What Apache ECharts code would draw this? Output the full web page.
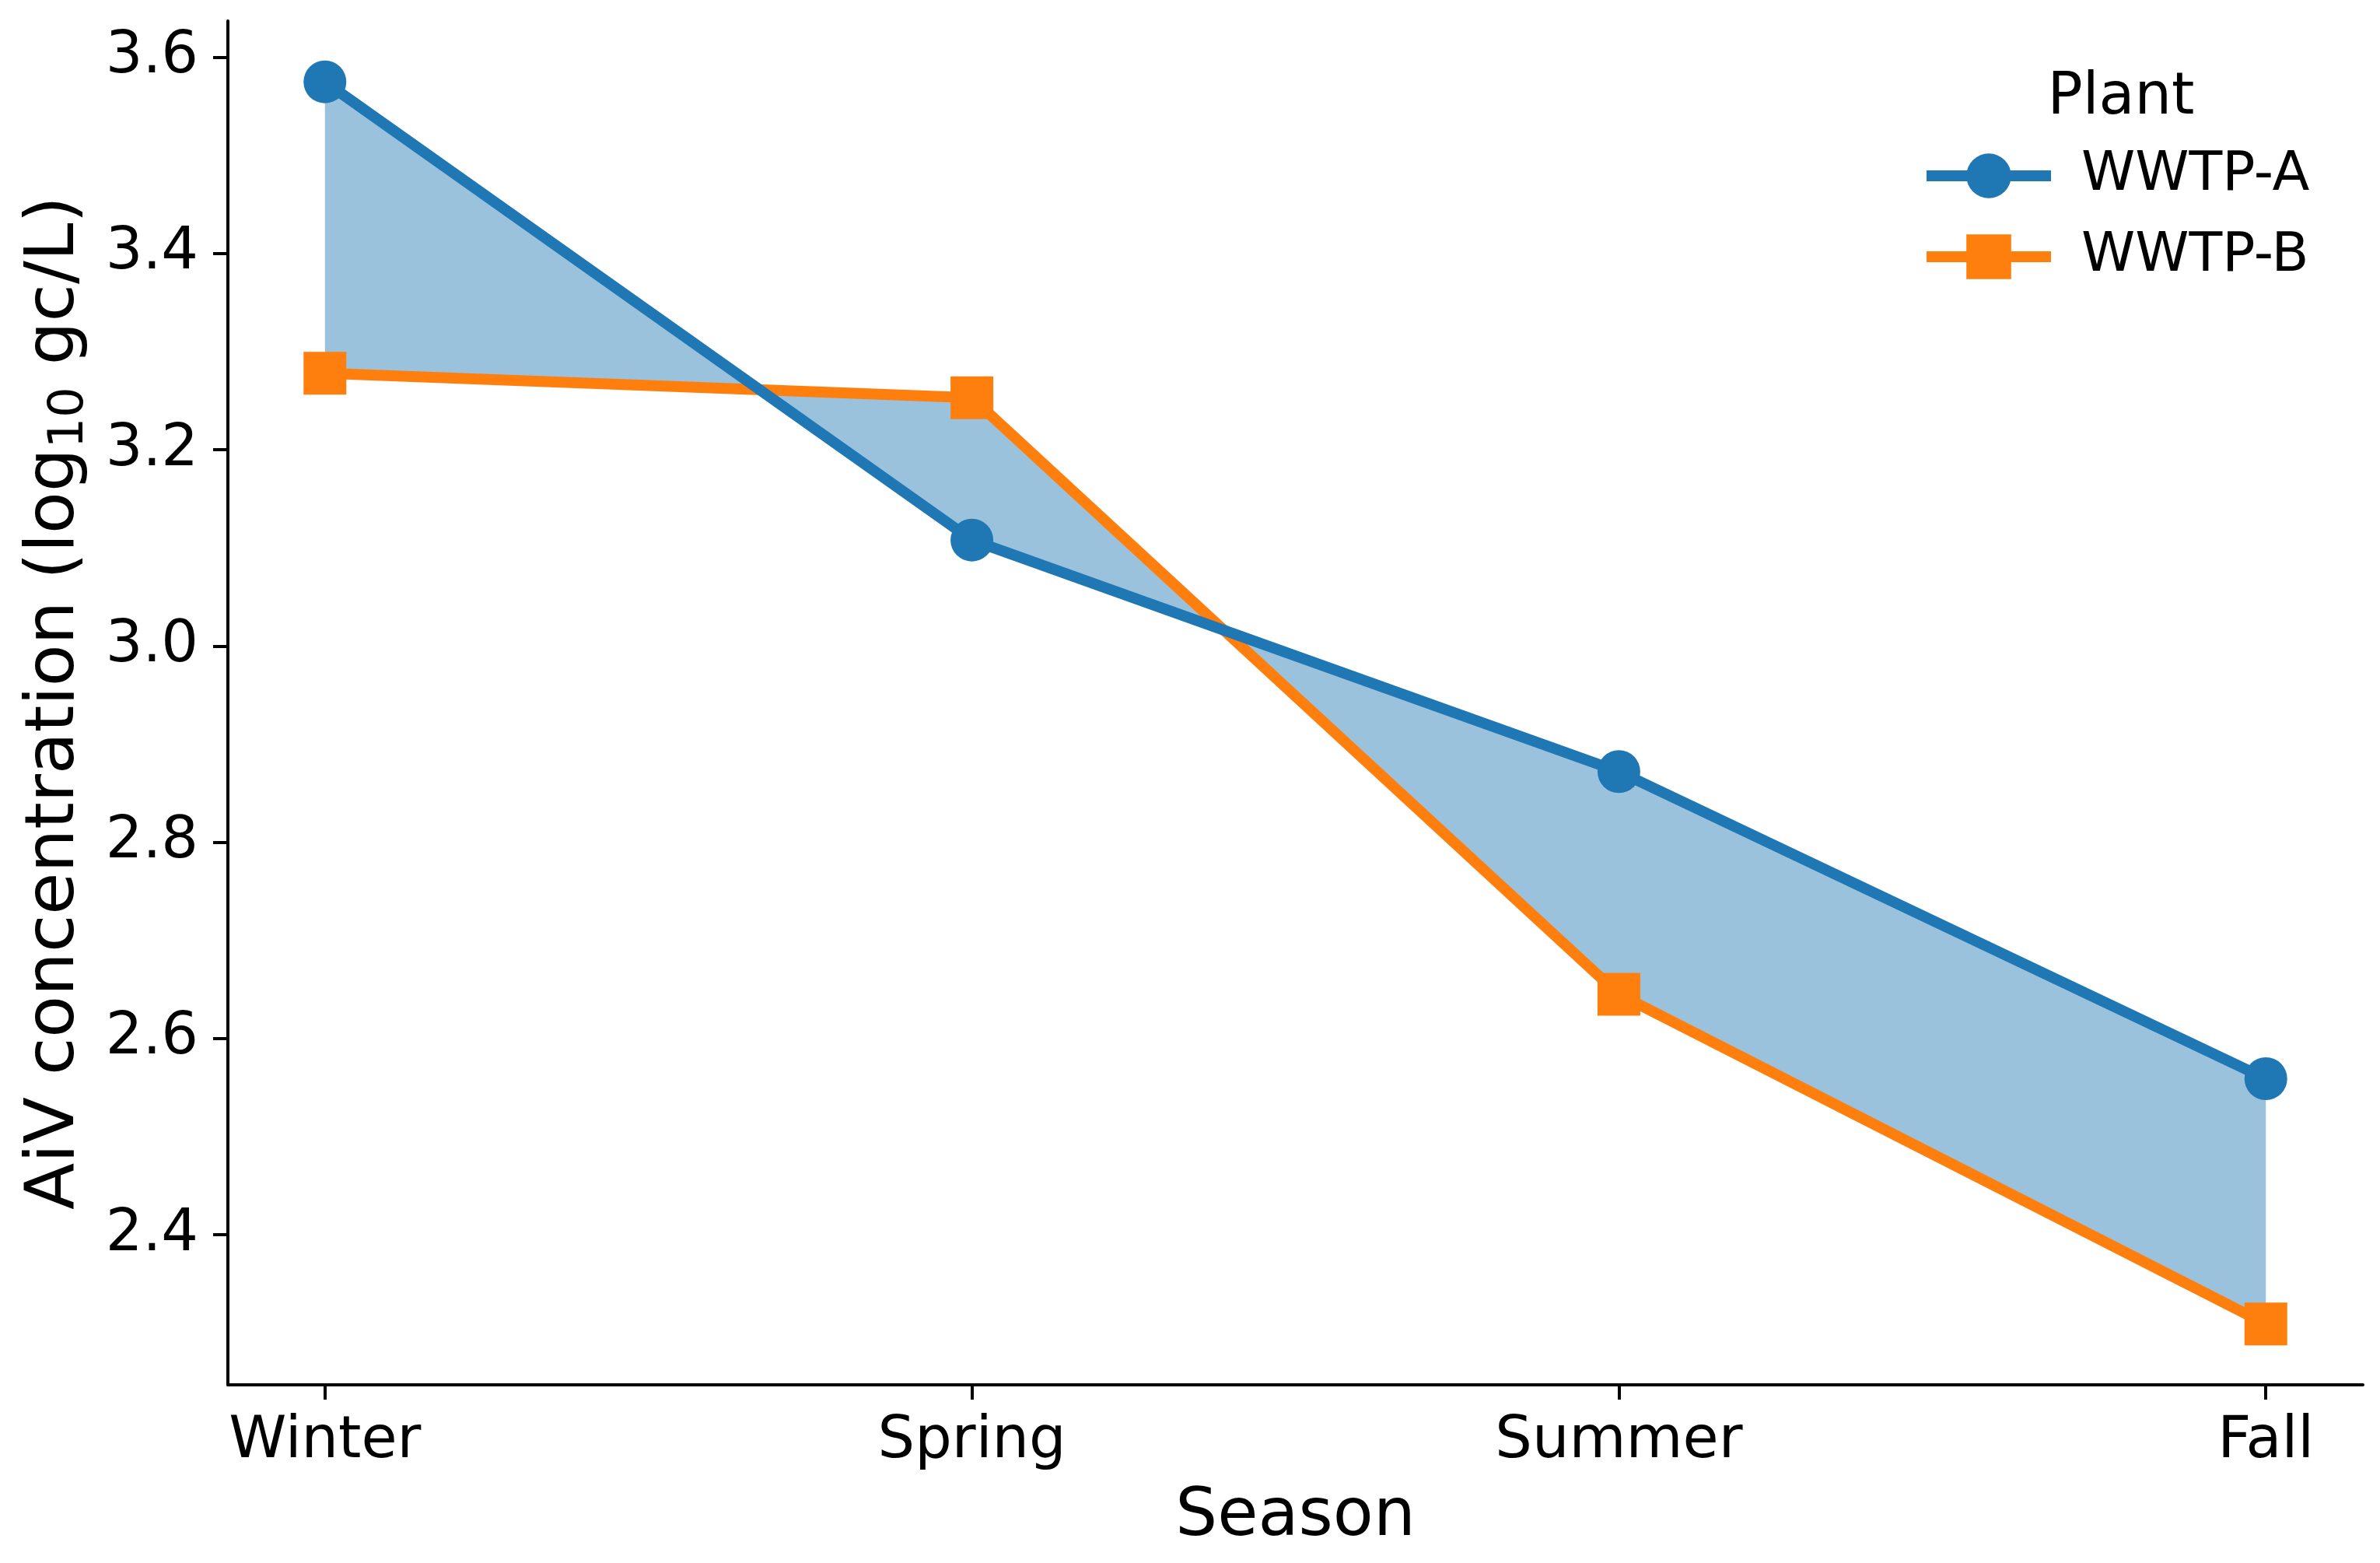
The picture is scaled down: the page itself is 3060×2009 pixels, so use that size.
<!DOCTYPE html>
<html>
<head>
<meta charset="utf-8">
<script src="https://cdn.jsdelivr.net/npm/echarts@6/dist/echarts.min.js"></script>
<style>
  html, body { margin: 0; padding: 0; background: #fff; }
  #chart { width: 3060px; height: 2009px; }
</style>
</head>
<body>
<div id="chart"></div>
<script>
// data
var seasons = ['Winter', 'Spring', 'Summer', 'Fall'];
var wwtpA = [3.575, 3.108, 2.872, 2.559];
var wwtpB = [3.278, 3.253, 2.645, 2.309];
var yTicks = [2.4, 2.6, 2.8, 3.0, 3.2, 3.4, 3.6];
var xTicks = [0, 1, 2, 3];

var FONT = 'DejaVu Sans';
var BLUE = '#1f77b4';
var ORANGE = '#ff7f0e';

var chart = echarts.init(document.getElementById('chart'), null, { renderer: 'canvas' });

function pairs(vals) {
    return vals.map(function (v, i) { return [i, v]; });
}

var option = {
    animation: false,
    backgroundColor: '#fff',
    title: {
        text: 'Plant',
        left: 2722,
        top: 84,
        textAlign: 'center',
        textStyle: { fontFamily: FONT, fontSize: 75, fontWeight: 'normal', color: '#000' }
    },
    legend: {
        data: ['WWTP-A', 'WWTP-B'],
        orient: 'vertical',
        left: 2465,
        top: 186,
        itemWidth: 160,
        itemHeight: 72,
        itemGap: 34,
        lineStyle: { width: 14 },
        textStyle: { fontFamily: FONT, fontSize: 70, color: '#000', padding: [0, 0, 0, 34] }
    },
    grid: { left: 293, right: 22, top: 27, bottom: 229 },
    xAxis: {
        type: 'value',
        min: -0.15,
        max: 3.15,
        name: 'Season',
        nameLocation: 'middle',
        nameGap: 128,
        nameTextStyle: { fontFamily: FONT, fontSize: 85, color: '#000' },
        splitLine: { show: false },
        axisLine: { onZero: false, lineStyle: { color: '#000', width: 4 } },
        axisTick: { customValues: xTicks, length: 19, lineStyle: { color: '#000', width: 4 } },
        axisLabel: {
            customValues: xTicks,
            margin: 36,
            fontFamily: FONT, fontSize: 75, color: '#000',
            formatter: function (v) { return seasons[Math.round(v)]; }
        }
    },
    yAxis: {
        type: 'value',
        min: 2.247,
        max: 3.637,
        name: '{a|AiV concentration (log}{s|10}{a| gc/L)}',
        nameLocation: 'middle',
        nameGap: 172,
        nameRotate: 90,
        nameTextStyle: {
            color: '#000',
            rich: {
                a: { fontFamily: FONT, fontSize: 88, color: '#000', lineHeight: 100 },
                s: { fontFamily: FONT, fontSize: 62, color: '#000', lineHeight: 60, verticalAlign: 'bottom' }
            }
        },
        splitLine: { show: false },
        axisLine: { show: true, onZero: false, lineStyle: { color: '#000', width: 4 } },
        axisTick: { show: true, customValues: yTicks, length: 19, lineStyle: { color: '#000', width: 4 } },
        axisLabel: {
            customValues: yTicks,
            margin: 38,
            fontFamily: FONT, fontSize: 75, color: '#000',
            formatter: function (v) { return v.toFixed(1); }
        }
    },
    series: [
        {
            type: 'custom',
            name: 'band',
            z: 1,
            silent: true,
            data: [[0, wwtpA[0]]],
            renderItem: function (params, api) {
                var pts = [];
                wwtpA.forEach(function (v, i) { pts.push(api.coord([i, v])); });
                for (var i = wwtpB.length - 1; i >= 0; i--) pts.push(api.coord([i, wwtpB[i]]));
                return {
                    type: 'polygon',
                    shape: { points: pts },
                    style: { fill: 'rgba(31,119,180,0.45)', stroke: null }
                };
            }
        },
        {
            type: 'line',
            name: 'WWTP-A',
            z: 3,
            data: pairs(wwtpA),
            symbol: 'circle',
            symbolSize: 55,
            color: BLUE,
            lineStyle: { color: BLUE, width: 14 },
            itemStyle: { color: BLUE }
        },
        {
            type: 'line',
            name: 'WWTP-B',
            z: 2,
            data: pairs(wwtpB),
            symbol: 'rect',
            symbolSize: 55,
            color: ORANGE,
            lineStyle: { color: ORANGE, width: 14 },
            itemStyle: { color: ORANGE }
        }
    ]
};

chart.setOption(option);
</script>
</body>
</html>
